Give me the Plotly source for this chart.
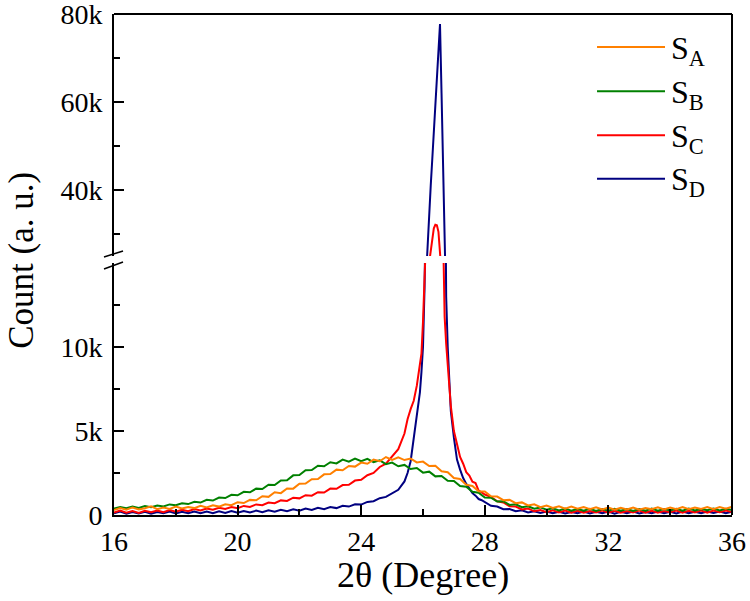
import plotly.graph_objects as go

# ---------------- data (counts in thousands) ----------------
x_coarse = [round(16 + 0.2 * i, 2) for i in range(101)]

x_fine = ([round(16 + 0.2 * i, 2) for i in range(48)]
          + [25.5, 25.6, 25.7, 25.8, 25.9]
          + [25.95, 26.0, 26.05, 26.1, 26.15, 26.2, 26.25, 26.3, 26.35, 26.4,
             26.45, 26.5, 26.55, 26.6, 26.65, 26.7, 26.75, 26.8, 26.85, 26.9]
          + [27.0, 27.1, 27.2, 27.3, 27.4, 27.5, 27.6, 27.7, 27.8, 27.9]
          + [round(28 + 0.2 * i, 2) for i in range(41)])

S_A = [0.30, 0.42, 0.31, 0.45, 0.33, 0.40, 0.52, 0.35, 0.44, 0.36,
       0.50, 0.39, 0.48, 0.41, 0.55, 0.45, 0.58, 0.50, 0.64, 0.58,
       0.76, 0.71, 0.90, 0.88, 1.12, 1.08, 1.35, 1.30, 1.58, 1.57,
       1.86, 1.87, 2.13, 2.14, 2.42, 2.44, 2.70, 2.66, 2.92, 2.88,
       3.12, 3.05, 3.30, 3.20, 3.45, 3.28, 3.43, 3.27, 3.36, 3.13,
       3.18, 2.91, 2.93, 2.60, 2.55, 2.20, 2.14, 1.80, 1.73, 1.42,
       1.40, 1.12, 1.10, 0.88, 0.90, 0.70, 0.75, 0.57, 0.64, 0.47,
       0.56, 0.42, 0.52, 0.38, 0.50, 0.37, 0.48, 0.35, 0.46, 0.33,
       0.44, 0.31, 0.43, 0.33, 0.45, 0.32, 0.42, 0.34, 0.46, 0.33,
       0.44, 0.35, 0.47, 0.34, 0.45, 0.36, 0.48, 0.35, 0.47, 0.38,
       0.49]

S_B = [0.38, 0.47, 0.40, 0.50, 0.42, 0.53, 0.46, 0.57, 0.51, 0.63,
       0.58, 0.70, 0.65, 0.79, 0.74, 0.90, 0.86, 1.04, 1.01, 1.20,
       1.17, 1.38, 1.35, 1.57, 1.55, 1.80, 1.78, 2.05, 2.07, 2.36,
       2.38, 2.66, 2.68, 2.93, 2.90, 3.14, 3.07, 3.30, 3.18, 3.36,
       3.20, 3.34, 3.15, 3.25, 3.03, 3.12, 2.90, 2.98, 2.74, 2.80,
       2.52, 2.58, 2.30, 2.32, 2.04, 2.02, 1.72, 1.68, 1.38, 1.33,
       1.04, 1.03, 0.80, 0.82, 0.60, 0.64, 0.46, 0.52, 0.37, 0.45,
       0.31, 0.40, 0.27, 0.38, 0.26, 0.36, 0.25, 0.37, 0.24, 0.35,
       0.26, 0.37, 0.25, 0.36, 0.24, 0.35, 0.26, 0.38, 0.25, 0.36,
       0.27, 0.37, 0.26, 0.38, 0.27, 0.36, 0.28, 0.39, 0.27, 0.37,
       0.30]

S_C = [0.15, 0.26, 0.14, 0.24, 0.12, 0.25, 0.16, 0.27, 0.17, 0.29,
       0.19, 0.31, 0.22, 0.35, 0.27, 0.39, 0.31, 0.43, 0.36, 0.48,
       0.40, 0.54, 0.48, 0.63, 0.58, 0.74, 0.70, 0.87, 0.84, 1.03,
       0.99, 1.18, 1.15, 1.36, 1.34, 1.57, 1.56, 1.78, 1.80, 2.05,
       2.10, 2.37, 2.50, 2.86, 3.05, 3.50, 3.92, 4.85,
       5.70, 6.30, 6.80, 7.70, 8.80,
       9.6, 11.5, 14.0, 17.5, 20.5, 23.5, 26.5, 29.5, 31.3, 32.1,
       32.0, 30.5, 27.0, 21.0, 15.0, 11.8, 10.2, 9.0, 7.6, 6.5,
       5.0, 4.2, 3.45, 3.05, 2.55, 2.35, 1.98, 1.90, 1.45, 1.35,
       1.22, 1.08, 0.82, 0.75, 0.52, 0.50, 0.33, 0.38, 0.22, 0.30,
       0.17, 0.28, 0.15, 0.26, 0.14, 0.25, 0.13, 0.24, 0.15, 0.26,
       0.14, 0.25, 0.13, 0.24, 0.15, 0.26, 0.14, 0.25, 0.13, 0.24,
       0.16, 0.27, 0.14, 0.25, 0.15, 0.26, 0.14, 0.27, 0.16, 0.26,
       0.18]

S_D = [0.10, 0.20, 0.08, 0.18, 0.09, 0.19, 0.07, 0.18, 0.10, 0.20,
       0.09, 0.19, 0.10, 0.21, 0.11, 0.20, 0.10, 0.22, 0.12, 0.23,
       0.13, 0.24, 0.15, 0.26, 0.17, 0.28, 0.19, 0.31, 0.22, 0.34,
       0.26, 0.38, 0.30, 0.43, 0.35, 0.48, 0.41, 0.55, 0.50, 0.64,
       0.62, 0.78, 0.82, 1.00, 1.08, 1.30, 1.50, 2.00,
       2.50, 3.20, 4.60, 5.80, 7.30,
       8.5, 10.0, 13.5, 21.0, 29.0, 35.0, 41.0, 47.0, 53.5, 59.5,
       65.5, 71.5, 77.7, 62.0, 44.0, 26.0, 13.0, 10.0, 7.8, 6.2,
       4.6, 3.3, 2.7, 2.2, 1.85, 1.55, 1.30, 1.15, 0.95, 0.88,
       0.78, 0.55, 0.50, 0.34, 0.36, 0.22, 0.28, 0.15, 0.22, 0.12,
       0.20, 0.10, 0.19, 0.09, 0.18, 0.11, 0.20, 0.09, 0.19, 0.10,
       0.21, 0.08, 0.19, 0.10, 0.20, 0.09, 0.18, 0.11, 0.21, 0.10,
       0.19, 0.09, 0.20, 0.11, 0.19, 0.10, 0.21, 0.12, 0.20, 0.11,
       0.20]

assert len(S_A) == len(x_coarse) and len(S_B) == len(x_coarse)
assert len(S_C) == len(x_fine) and len(S_D) == len(x_fine)

series_names = ["S<sub>A</sub>", "S<sub>B</sub>", "S<sub>C</sub>", "S<sub>D</sub>"]
series_x = [x_coarse, x_coarse, x_fine, x_fine]
series_y = [S_A, S_B, S_C, S_D]
colors = ["#FF8000", "#008000", "#FF0000", "#000080"]

x_ticks = [16, 20, 24, 28, 32, 36]
x_minor = [18, 22, 26, 30, 34]
low_ticks, low_text, low_minor = [0, 5, 10], ["0", "5k", "10k"], [2.5, 7.5, 12.5]
up_ticks, up_text, up_minor = [40, 60, 80], ["40k", "60k", "80k"], [30, 50, 70]

FONT = "Liberation Serif"

fig = go.Figure()
# draw D first so A ends up on top
for i in [3, 2, 1, 0]:
    for ya in ["y", "y2"]:
        fig.add_trace(go.Scatter(x=series_x[i], y=series_y[i], mode="lines",
                                 line=dict(color=colors[i], width=2),
                                 xaxis="x", yaxis=ya, showlegend=False,
                                 hoverinfo="skip"))

axis_common = dict(showgrid=False, zeroline=False, showline=True, linewidth=2,
                   linecolor="black", ticks="inside", ticklen=10, tickwidth=2,
                   tickcolor="black", ticklabeloverflow="allow", automargin=False,
                   tickfont=dict(family=FONT, size=28, color="black"))

fig.update_layout(
    width=750, height=601,
    margin=dict(l=114, r=18, t=14, b=86, autoexpand=False),
    paper_bgcolor="white", plot_bgcolor="white",
    showlegend=False,
    xaxis=dict(domain=[0, 1], range=[16, 36], tickmode="array", tickvals=x_ticks,
               minor=dict(tickvals=x_minor, ticks="inside", ticklen=6, tickwidth=2,
                          tickcolor="black"),
               anchor="y", **axis_common),
    yaxis=dict(domain=[0, 0.503], range=[0, 15], tickmode="array", tickvals=low_ticks,
               ticktext=low_text, ticklabelstandoff=4,
               minor=dict(tickvals=low_minor, ticks="inside", ticklen=6, tickwidth=2,
                          tickcolor="black"),
               anchor="x", **axis_common),
    yaxis2=dict(domain=[0.517, 1], range=[25, 80], tickmode="array", tickvals=up_ticks,
                ticktext=up_text, ticklabelstandoff=4,
                minor=dict(tickvals=up_minor, ticks="inside", ticklen=6, tickwidth=2,
                           tickcolor="black"),
                anchor="x", **axis_common),
)

shapes = [
    # top and right frame
    dict(type="line", xref="paper", yref="paper", x0=0, x1=1, y0=1, y1=1,
         line=dict(color="black", width=2)),
    dict(type="line", xref="paper", yref="paper", x0=1, x1=1, y0=0, y1=1,
         line=dict(color="black", width=2)),
    # axis break marks
    dict(type="line", xref="paper", yref="paper", x0=-0.0162, x1=0.0146, y0=0.515, y1=0.527,
         line=dict(color="black", width=1.5)),
    dict(type="line", xref="paper", yref="paper", x0=-0.0162, x1=0.0146, y0=0.491, y1=0.505,
         line=dict(color="black", width=1.5)),
]
legend_rows = [0.934, 0.846, 0.758, 0.671]
annotations = []
for i in range(4):
    shapes.append(dict(type="line", xref="paper", yref="paper", x0=0.7816, x1=0.8916,
                       y0=legend_rows[i], y1=legend_rows[i],
                       line=dict(color=colors[i], width=2)))
    annotations.append(dict(xref="paper", yref="paper", x=0.8985, y=legend_rows[i] - 0.006,
                            xanchor="left", yanchor="middle", showarrow=False,
                            text=series_names[i],
                            font=dict(family=FONT, size=32, color="black")))

annotations.append(dict(xref="paper", yref="paper", x=0.5, y=-0.120, xanchor="center",
                        yanchor="middle", showarrow=False, text="2θ (Degree)",
                        font=dict(family=FONT, size=36, color="black")))
annotations.append(dict(xref="paper", yref="paper", x=-0.150, y=0.508, xanchor="center",
                        yanchor="middle", showarrow=False, text="Count (a. u.)", textangle=-90,
                        font=dict(family=FONT, size=35, color="black")))

fig.update_layout(shapes=shapes, annotations=annotations)
fig.write_html("out.html")
